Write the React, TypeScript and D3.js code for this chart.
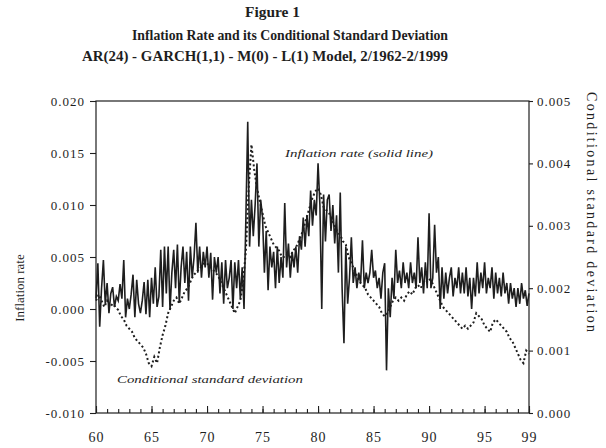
import { useEffect, useRef } from "react";
import * as d3 from "d3";

const titleLines = [
  "Figure 1",
  "Inflation Rate and its Conditional Standard Deviation",
  "AR(24) - GARCH(1,1) - M(0) - L(1) Model, 2/1962-2/1999",
];

const yearTicks = [1960, 1965, 1970, 1975, 1980, 1985, 1990, 1995, 1999];
const leftTicks = [-0.01, -0.005, 0, 0.005, 0.01, 0.015, 0.02];
const rightTicks = [0, 0.001, 0.002, 0.003, 0.004, 0.005];

// inflation rate, six readings a year starting 1960, in thousandths
const inflation = [
  1.0, 4.4, -1.7, 2.0, 4.7, 0.5,
  2.5, -0.4, 1.5, 2.1, 0.2, 1.2,
  0.8, 2.4, 1.0, 4.7, -0.8, 1.0,
  0.0, 1.4, 3.3, -0.8, 2.8, 0.5,
  -0.4, 0.8, 2.6, -0.5, 2.8, -0.8,
  3.0, 0.5, 4.0, 0.2, 1.2, 5.7,
  0.2, 6.0, 1.5, 6.0, -0.1, 3.5,
  5.7, 2.0, 6.2, 0.6, 4.0, 6.0,
  2.5, 5.5, 0.8, 6.0, 3.0, 5.0,
  8.3, 3.5, 6.0, 3.0, 5.5, 4.0,
  6.0, 3.0, 5.4, 0.9, 5.0, 3.5,
  5.0, 1.5, 4.5, 0.5, 4.7, 2.0,
  3.0, 4.7, 0.0, 4.5, 2.0, 4.7,
  1.0, 4.0, 0.0, 8.8, 18.0, 6.0,
  10.5, 7.0, 10.0, 14.0, 6.0, 10.5,
  8.8, 3.5, 7.5, 1.8, 6.0, 4.0,
  5.5, 2.0, 6.0, 2.5, 5.0, 3.0,
  10.2, 4.0, 6.3, 3.0, 5.5, 4.0,
  6.0, 3.5, 7.0, 5.7, 8.8, 6.0,
  9.0, 7.0, 11.4, 8.0, 10.5, 9.0,
  14.0, 10.0, 0.0, 11.0, 6.5, 10.5,
  11.0, 7.5, 10.0, 6.3, 9.0, 3.5,
  11.2, 2.0, -3.3, 6.0, 0.5, 3.0,
  6.9, 2.5, 4.0, 2.0, 3.5, 2.5,
  6.6, 2.0, 3.5, 2.5, 3.5, 5.7,
  3.0, 3.7, 2.0, 3.0, 1.0, 3.5,
  4.4, -5.9, 2.0, -0.8, 3.0, 1.0,
  5.7, 2.5, 3.7, 2.0, 4.5, 2.5,
  3.5, 2.0, 4.5, 2.5, 3.5, 2.0,
  6.9, 2.5, 4.0, 1.5, 4.5, 2.0,
  9.2, 2.0, 3.0, 8.1, 3.5, 5.0,
  0.0, 4.0, 1.0, 3.5, 1.5, 3.0,
  4.0, 1.2, 3.0, 2.0, 4.0, 1.5,
  3.5, 1.5, 4.0, 1.2, 3.0, 0.0,
  3.0, 1.2, 4.5, 1.5, 3.5, 2.0,
  4.5, 1.5, 3.0, 2.0, 4.0, 1.0,
  3.5, 1.5, 3.0, 1.2, 3.5, 1.5,
  2.5, 0.5, 2.5, 1.0, 2.0, 0.2,
  2.0, 0.5, 2.5, 1.0, 1.8, 0.3,
  1.5,
];

// conditional standard deviation, four readings a year starting 1960, in thousandths
const condSd = [
  1.8, 1.9, 1.8, 1.7,
  1.8, 1.7, 1.75, 1.7,
  1.65, 1.55, 1.5, 1.4,
  1.35, 1.3, 1.2, 1.15,
  1.1, 1.05, 0.95, 0.8,
  0.75, 0.9, 0.8, 1.05,
  1.25, 1.4, 1.6, 1.7,
  1.8, 1.85, 1.75, 1.85,
  1.95, 2.0, 2.1, 2.2,
  2.25, 2.3, 2.35, 2.4,
  2.4, 2.35, 2.3, 2.25,
  2.2, 2.1, 2.0, 1.9,
  1.8, 1.7, 1.6, 1.7,
  1.8, 2.1, 2.6, 3.6,
  4.3, 3.9, 3.6, 3.4,
  3.2, 3.0, 2.9, 2.8,
  2.7, 2.65, 2.6, 2.5,
  2.5, 2.55, 2.5, 2.6,
  2.65, 2.75, 2.85, 3.0,
  3.15, 3.3, 3.45, 3.55,
  3.6, 3.5, 3.3, 3.25,
  3.2, 3.1, 3.0, 2.9,
  2.85, 2.75, 2.7, 2.5,
  2.4, 2.3, 2.2, 2.1,
  2.05, 2.0, 1.9, 1.85,
  1.8, 1.75, 1.7, 1.6,
  1.55, 1.6, 1.7, 1.8,
  1.85, 1.8, 1.85, 1.8,
  1.9, 1.95, 1.9, 2.0,
  2.05, 2.0, 2.1, 2.1,
  2.15, 2.1, 2.0, 1.9,
  1.8, 1.7, 1.65, 1.6,
  1.55, 1.5, 1.45, 1.4,
  1.35, 1.4, 1.35, 1.4,
  1.45, 1.6, 1.55, 1.5,
  1.4, 1.35, 1.3, 1.45,
  1.5, 1.45, 1.4, 1.35,
  1.3, 1.2, 1.15, 1.05,
  0.95, 0.85, 0.8, 1.0,
  0.95,
];

const SERIF = '"Liberation Serif", "DejaVu Serif", serif';
const INK = "#1e1e1e";

export default function App() {
  const svgRef = useRef<SVGSVGElement>(null);

  useEffect(() => {
    const width = 606;
    const height = 448;
    const margin = { top: 101, right: 77, bottom: 35, left: 96 };

    const svg = d3.select(svgRef.current);
    svg.selectAll("*").remove();
    svg.attr("viewBox", `0 0 ${width} ${height}`);

    const bottom = height - margin.bottom;
    const x = d3.scaleLinear().domain([1960, 1999]).range([margin.left, width - margin.right]);
    const yL = d3.scaleLinear().domain([-0.01, 0.02]).range([bottom, margin.top]);
    const yR = d3.scaleLinear().domain([0, 0.005]).range([bottom, margin.top]);

    // title
    const titleX = [245, 132, 82];
    const titleLen = [55, 316, 366];
    const titleY = [17, 40, 61];
    titleLines.forEach((t, i) => {
      svg
        .append("text")
        .attr("x", titleX[i])
        .attr("y", titleY[i])
        .attr("textLength", titleLen[i])
        .attr("lengthAdjust", "spacingAndGlyphs")
        .attr("font-family", SERIF)
        .attr("font-weight", "bold")
        .attr("font-size", 14)
        .attr("fill", INK)
        .text(t);
    });

    // series: dotted sd first, solid inflation on top
    const sdLine = d3
      .line<number>()
      .x((_, i) => x(1960 + i / 4))
      .y((d) => yR(d / 1000));
    svg
      .append("path")
      .datum(condSd)
      .attr("d", sdLine)
      .attr("fill", "none")
      .attr("stroke", INK)
      .attr("stroke-width", 2)
      .attr("stroke-dasharray", "2,2.5");

    const infLine = d3
      .line<number>()
      .x((_, i) => x(1960 + i / 6))
      .y((d) => yL(d / 1000));
    svg
      .append("path")
      .datum(inflation)
      .attr("d", infLine)
      .attr("fill", "none")
      .attr("stroke", INK)
      .attr("stroke-width", 1.6);

    // frame
    svg
      .append("rect")
      .attr("x", margin.left)
      .attr("y", margin.top)
      .attr("width", width - margin.left - margin.right)
      .attr("height", bottom - margin.top)
      .attr("fill", "none")
      .attr("stroke", INK)
      .attr("stroke-width", 1.2);

    const styleAxis = (g: any, size: number) => {
      g.select(".domain").remove();
      g.selectAll("line").attr("stroke", INK).attr("stroke-width", 1.1);
      g.selectAll("text")
        .attr("font-family", SERIF)
        .attr("font-size", size)
        .attr("letter-spacing", 1)
        .attr("fill", INK);
    };

    svg
      .append("g")
      .attr("transform", `translate(${margin.left},0)`)
      .call(
        d3
          .axisLeft(yL)
          .tickValues(leftTicks)
          .tickFormat((d) => (+d).toFixed(3))
          .tickSize(6)
          .tickPadding(5)
      )
      .call((g) => styleAxis(g, 13));

    svg
      .append("g")
      .attr("transform", `translate(${width - margin.right},0)`)
      .call(
        d3
          .axisRight(yR)
          .tickValues(rightTicks)
          .tickFormat((d) => (+d).toFixed(3))
          .tickSize(4)
          .tickPadding(4)
      )
      .call((g) => styleAxis(g, 13));

    svg
      .append("g")
      .attr("transform", `translate(0,${bottom})`)
      .call(d3.axisBottom(x).tickValues(d3.range(1960, 2000)).tickSize(-4).tickFormat(() => ""))
      .call((g) => styleAxis(g, 13));

    svg
      .append("g")
      .attr("transform", `translate(0,${bottom})`)
      .call(
        d3
          .axisBottom(x)
          .tickValues(yearTicks)
          .tickSize(-7)
          .tickPadding(19)
          .tickFormat((d) => String(+d % 100))
      )
      .call((g) => styleAxis(g, 14));

    // axis titles
    svg
      .append("text")
      .attr("transform", "translate(24,288) rotate(-90)")
      .attr("text-anchor", "middle")
      .attr("font-family", SERIF)
      .attr("font-size", 13)
      .attr("fill", INK)
      .text("Inflation rate");

    svg
      .append("text")
      .attr("transform", "translate(587,92) rotate(90)")
      .attr("textLength", 240)
      .attr("lengthAdjust", "spacing")
      .attr("font-family", SERIF)
      .attr("font-size", 14)
      .attr("fill", INK)
      .text("Conditional standard deviation");

    // in-plot notes
    svg
      .append("text")
      .attr("x", 285)
      .attr("y", 157)
      .attr("textLength", 148)
      .attr("lengthAdjust", "spacingAndGlyphs")
      .attr("font-family", SERIF)
      .attr("font-style", "italic")
      .attr("font-size", 11)
      .attr("fill", INK)
      .text("Inflation rate (solid line)");

    svg
      .append("text")
      .attr("x", 117)
      .attr("y", 383)
      .attr("textLength", 186)
      .attr("lengthAdjust", "spacingAndGlyphs")
      .attr("font-family", SERIF)
      .attr("font-style", "italic")
      .attr("font-size", 11)
      .attr("fill", INK)
      .text("Conditional standard deviation");
  }, []);

  return (
    <svg
      ref={svgRef}
      width={606}
      height={448}
      style={{ position: "absolute", left: 0, top: 0, background: "#fff" }}
    />
  );
}
